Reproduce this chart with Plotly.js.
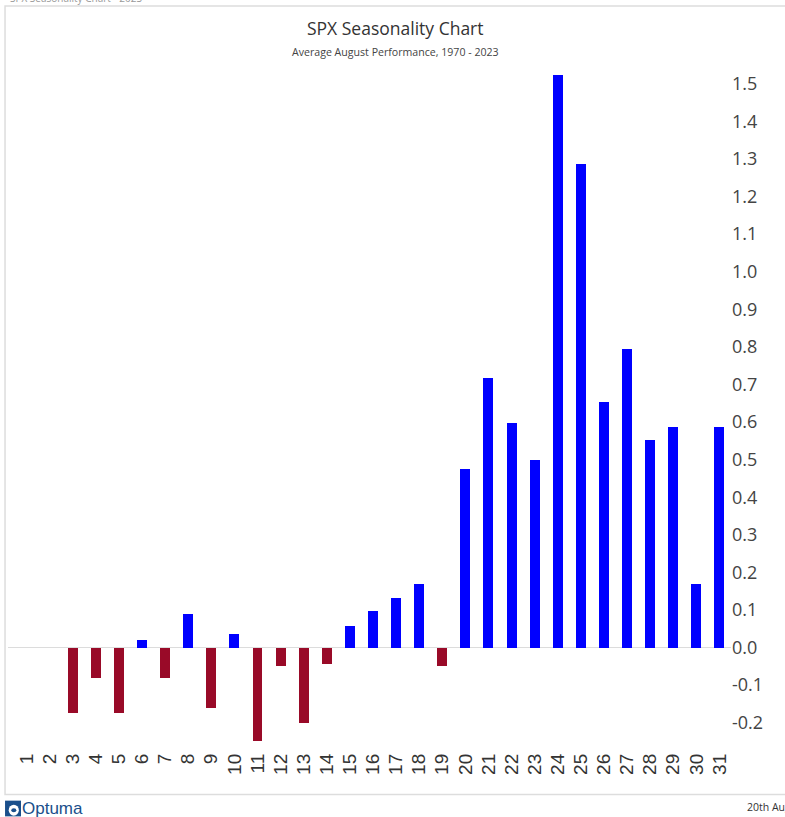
<!DOCTYPE html>
<html>
<head>
<meta charset="utf-8">
<script src="https://cdn.plot.ly/plotly-3.0.1.min.js"></script>
<style>
html,body{margin:0;padding:0;background:#fff;}
#chart{width:785px;height:817px;}
</style>
</head>
<body>
<div id="chart"></div>
<script>
const days = ["1","2","3","4","5","6","7","8","9","10","11","12","13","14","15","16","17","18","19","20","21","22","23","24","25","26","27","28","29","30","31"];
const avgPerf = [0, 0, -0.173, -0.082, -0.173, 0.019, -0.08, 0.088, -0.162, 0.035, -0.25, -0.05, -0.202, -0.045, 0.056, 0.098, 0.133, 0.17, -0.048, 0.476, 0.718, 0.598, 0.5, 1.524, 1.287, 0.652, 0.795, 0.553, 0.588, 0.168, 0.588];
const yTicks = [-0.2,-0.1,0,0.1,0.2,0.3,0.4,0.5,0.6,0.7,0.8,0.9,1.0,1.1,1.2,1.3,1.4,1.5];
const yTickText = ["-0.2","-0.1","0.0","0.1","0.2","0.3","0.4","0.5","0.6","0.7","0.8","0.9","1.0","1.1","1.2","1.3","1.4","1.5"];

const upColor = "#0000FF";
const downColor = "#990A28";
const colors = avgPerf.map(v => v >= 0 ? upColor : downColor);

const trace = {
  type: "bar",
  x: days,
  y: avgPerf,
  width: 0.43,
  marker: {color: colors, line: {width: 0}},
  hoverinfo: "x+y"
};

const layout = {
  width: 785,
  height: 817,
  margin: {l: 8, r: 53.5, t: 65, b: 67.5},
  paper_bgcolor: "#ffffff",
  plot_bgcolor: "#ffffff",
  showlegend: false,
  bargap: 0,
  xaxis: {
    type: "category",
    range: [-0.8, 30.5],
    tickangle: -90,
    showgrid: false,
    zeroline: false,
    showline: false,
    ticks: "",
    tickfont: {family: "Liberation Sans, Arial, sans-serif", size: 19, color: "#333333"}
  },
  yaxis: {
    side: "right",
    range: [-0.27, 1.55],
    tickmode: "array",
    tickvals: yTicks,
    ticktext: yTickText,
    showgrid: false,
    zeroline: true,
    zerolinecolor: "#dcdcdc",
    zerolinewidth: 1.5,
    showline: false,
    ticks: "",
    tickfont: {family: "Open Sans, Noto Sans, sans-serif", size: 18, color: "#444444"}
  },
  shapes: [
    {type: "rect", xref: "paper", yref: "paper",
     x0: -0.0041, x1: 1.08, y0: -0.0665, y1: 1.0862,
     line: {color: "#dddddd", width: 1.5}, fillcolor: "rgba(0,0,0,0)", layer: "below"}
  ],
  annotations: [
    {text: "SPX Seasonality Chart", xref: "paper", yref: "paper",
     x: 0.536, y: 1.054, xanchor: "center", yanchor: "middle", showarrow: false,
     font: {family: "Open Sans, sans-serif", size: 17.5, color: "#333333"}},
    {text: "Average August Performance, 1970 - 2023", xref: "paper", yref: "paper",
     x: 0.536, y: 1.019, xanchor: "center", yanchor: "middle", showarrow: false,
     font: {family: "Open Sans, sans-serif", size: 10.6, color: "#444444"}},
    {text: "SPX Seasonality Chart - 2023", xref: "paper", yref: "paper",
     x: 0.0, y: 1.0985, xanchor: "left", yanchor: "middle", showarrow: false,
     font: {family: "Open Sans, sans-serif", size: 10, color: "#999999"}},
    {text: "Optuma", xref: "paper", yref: "paper",
     x: 0.016, y: -0.0865, xanchor: "left", yanchor: "middle", showarrow: false,
     font: {family: "Liberation Sans, Arial, sans-serif", size: 17, color: "#1a4f8b"}},
    {text: "20th Aug", xref: "paper", yref: "paper",
     x: 1.019, y: -0.0855, xanchor: "left", yanchor: "middle", showarrow: false,
     font: {family: "Open Sans, sans-serif", size: 10.5, color: "#333333"}}
  ]
};

// Optuma logo icon
layout.shapes.push({type: "rect", xref: "paper", yref: "paper",
  x0: -0.0041, x1: 0.0180, y0: -0.0985, y1: -0.0755,
  line: {width: 0}, fillcolor: "#1a4f8b"});
layout.shapes.push({type: "circle", xref: "paper", yref: "paper",
  x0: 0.0010, x1: 0.0150, y0: -0.0975, y1: -0.0815,
  line: {width: 0}, fillcolor: "#ffffff"});
layout.shapes.push({type: "circle", xref: "paper", yref: "paper",
  x0: 0.0045, x1: 0.0115, y0: -0.0925, y1: -0.0865,
  line: {width: 0}, fillcolor: "#1a4f8b"});

Plotly.newPlot("chart", [trace], layout, {displayModeBar: false, staticPlot: true});
</script>
</body>
</html>
